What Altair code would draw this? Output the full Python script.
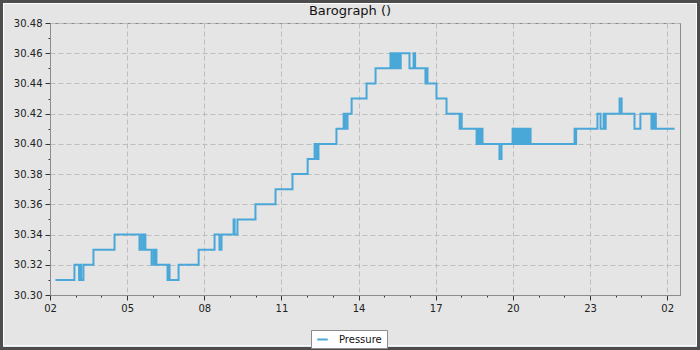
import altair as alt
import pandas as pd

# ---- data (day offset from the first "02", pressure inHg) ----
DAYS = [
    0.21, 0.95, 1.13, 1.17, 1.21, 1.30, 1.69, 2.51, 3.48, 3.56, 3.64, 3.68, 3.71,
    3.95, 4.03, 4.07, 4.11, 4.14, 4.57, 4.61, 4.65, 5.00, 5.78, 6.40, 6.59, 6.67,
    7.14, 7.18, 7.29, 7.99, 8.77, 9.43, 10.02, 10.29, 10.37, 10.44, 11.14, 11.42,
    11.49, 11.57, 11.73, 12.31, 12.66,
    13.24, 13.28, 13.32, 13.36, 13.40, 13.44, 13.48, 13.52, 13.56, 13.60, 13.64,
    13.98, 14.14, 14.20, 14.60, 14.64, 14.68, 15.03, 15.42, 15.93, 15.97, 16.01,
    16.59, 16.63, 16.67, 16.71, 16.75, 16.79, 16.82, 17.48, 17.56,
    17.99, 18.03, 18.07, 18.11, 18.15, 18.19, 18.23, 18.27, 18.31, 18.35, 18.39,
    18.43, 18.47, 18.51, 18.55, 18.59, 18.63, 18.69,
    20.40, 20.43, 20.46, 21.29, 21.41, 21.53, 21.57, 21.61, 22.15, 22.23, 22.73,
    22.96, 23.39, 23.42, 23.45, 23.51, 23.56, 24.29,
]
PRESSURE = [
    30.31, 30.32, 30.31, 30.32, 30.31, 30.32, 30.33, 30.34, 30.33, 30.34, 30.33, 30.34, 30.33,
    30.32, 30.33, 30.32, 30.33, 30.32, 30.31, 30.32, 30.31, 30.32, 30.33, 30.34, 30.33, 30.34,
    30.35, 30.34, 30.35, 30.36, 30.37, 30.38, 30.39, 30.40, 30.39, 30.40, 30.41, 30.42,
    30.41, 30.42, 30.43, 30.44, 30.45,
    30.46, 30.45, 30.46, 30.45, 30.46, 30.45, 30.46, 30.45, 30.46, 30.45, 30.46,
    30.45, 30.46, 30.45, 30.44, 30.45, 30.44, 30.43, 30.42, 30.41, 30.42, 30.41,
    30.40, 30.41, 30.40, 30.41, 30.40, 30.41, 30.40, 30.39, 30.40,
    30.41, 30.40, 30.41, 30.40, 30.41, 30.40, 30.41, 30.40, 30.41, 30.40, 30.41,
    30.40, 30.41, 30.40, 30.41, 30.40, 30.41, 30.40,
    30.41, 30.40, 30.41, 30.42, 30.41, 30.42, 30.41, 30.42, 30.43, 30.42, 30.41,
    30.42, 30.41, 30.42, 30.41, 30.42, 30.41, 30.41,
]
X_TICK_LABELS = ["02", "05", "08", "11", "14", "17", "20", "23", "02"]
SERIES = "Pressure"
TITLE = "Barograph ()"

df = pd.DataFrame({"day": DAYS, "pressure": PRESSURE, "series": SERIES})

FONT = "DejaVu Sans"
BG = "#e5e5e5"
LINE = "#4aa8d8"
W, H = 630, 272
PAD = {"left": 50, "top": 23, "right": 20, "bottom": 55}

label_arr = "[" + ",".join("'" + s + "'" for s in X_TICK_LABELS) + "]"
x_test = "datum.value % 3 === 0"
x_axis = alt.Axis(
    values=list(range(0, 25)),
    labelExpr=x_test + " ? " + label_arr + "[datum.value / 3] : ''",
    tickSize={"condition": {"test": x_test, "value": 5}, "value": 2},
    gridOpacity={"condition": {"test": x_test, "value": 1}, "value": 0},
    grid=True, gridColor="#bdbdbd", gridDash=[5, 3], gridWidth=1,
    domainColor="#8c8c8c", tickColor="#333333", labelColor="#222222",
    labelFont=FONT, labelFontSize=10, labelPadding=3, labelFlush=False,
    labelOverlap=False, title=None,
)
y_test = "round(datum.value * 100) % 2 === 0"
y_axis = alt.Axis(
    values=[round(30.30 + 0.01 * i, 2) for i in range(19)],
    labelExpr=y_test + " ? format(datum.value, '.2f') : ''",
    tickSize={"condition": {"test": y_test, "value": 5}, "value": 2},
    gridOpacity={"condition": {"test": y_test, "value": 1}, "value": 0},
    grid=True, gridColor="#bdbdbd", gridDash=[5, 3], gridWidth=1,
    domainColor="#8c8c8c", tickColor="#333333", labelColor="#222222",
    labelFont=FONT, labelFontSize=10, labelPadding=3,
    labelOverlap=False, title=None,
)

line = alt.Chart(df).mark_line(interpolate="step-after", strokeWidth=2).encode(
    x=alt.X("day:Q", scale=alt.Scale(domain=[0, 24.5], nice=False, zero=False), axis=x_axis),
    y=alt.Y("pressure:Q", scale=alt.Scale(domain=[30.30, 30.48], nice=False, zero=False), axis=y_axis),
    color=alt.Color(
        "series:N",
        scale=alt.Scale(domain=[SERIES], range=[LINE]),
        legend=alt.Legend(
            title=" ", titleOrient="right", titlePadding=2, titleFontSize=10, titleFont=FONT,
            orient="none", legendX=261, legendY=307, direction="horizontal",
            fillColor="white", strokeColor="#8c8c8c", padding=3, symbolOffset=2,
            symbolType="stroke", symbolStrokeWidth=2, symbolSize=110,
            labelFont=FONT, labelFontSize=10, labelColor="#111111", labelOffset=10,
        ),
    ),
)

frame_data = alt.Data(values=[{"k": 1}])
outer = alt.Chart(frame_data).mark_rect(fillOpacity=0, stroke="#4d4d4d", strokeWidth=3).encode(
    x=alt.value(-48.5), x2=alt.value(648.5), y=alt.value(-21.5), y2=alt.value(325.5)
)
inner = alt.Chart(frame_data).mark_rect(fillOpacity=0, stroke="#ffffff", strokeWidth=1).encode(
    x=alt.value(-46.5), x2=alt.value(646.5), y=alt.value(-19.5), y2=alt.value(322.5)
)
title = alt.Chart(frame_data).mark_text(
    text=TITLE, font=FONT, fontSize=13, color="#111111", align="center", baseline="middle"
).encode(x=alt.value(300), y=alt.value(-12))

chart = alt.layer(line, outer, inner, title).properties(
    width=W, height=H,
    autosize=alt.AutoSizeParams(type="none"),
    padding=PAD,
    background=BG,
).configure_view(stroke="#8c8c8c", strokeWidth=1, fill=BG)

chart.save("out.html", embed_options={"renderer": "svg", "actions": False})
